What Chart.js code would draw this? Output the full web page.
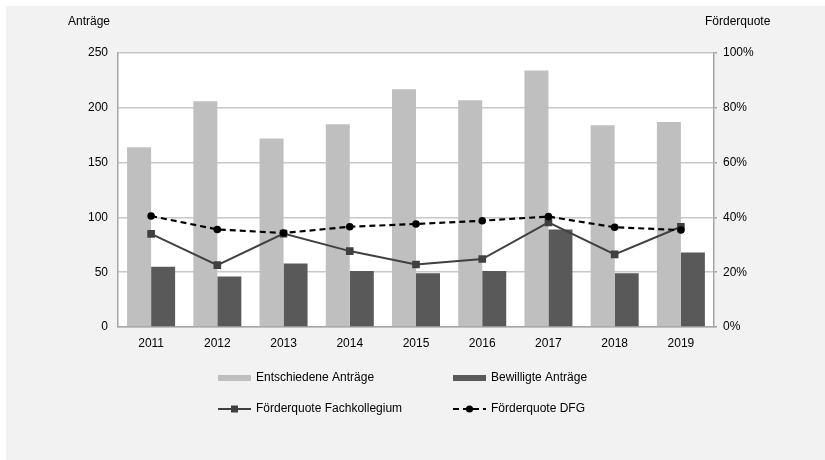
<!doctype html>
<html lang="de">
  <head>
    <meta charset="utf-8">
    <title>Anträge und Förderquote 2011–2019</title>
    <style>
      body { margin: 0; background: #fff; }
      .chartBox { width: 825px; height: 460px; }
    </style>
  </head>
  <body>
    <div class="chartBox">
      <canvas id="myChart" width="825" height="460"></canvas>
    </div>
    <script src="https://cdn.jsdelivr.net/npm/chart.js/dist/chart.umd.min.js"></script>
    <script>
    // data
    const years = ['2011', '2012', '2013', '2014', '2015', '2016', '2017', '2018', '2019'];
    const entschieden = [164, 206, 172, 185, 217, 207, 234, 184, 187];
    const bewilligt = [55, 46, 58, 51, 49, 51, 89, 49, 68];
    const quoteFach = [34.0, 22.6, 34.1, 27.7, 22.8, 24.8, 38.2, 26.5, 36.6];
    const quoteDFG = [40.5, 35.6, 34.3, 36.6, 37.6, 38.8, 40.3, 36.4, 35.4];

    const FONT = '"Liberation Sans", Arial, sans-serif';
    Chart.defaults.font.family = FONT;
    Chart.defaults.font.size = 12;
    Chart.defaults.color = '#000';

    // grey panel, white plot area
    const background = {
      id: 'background',
      beforeDraw(chart) {
        const { ctx, chartArea: a } = chart;
        ctx.save();
        ctx.fillStyle = '#fff';
        ctx.fillRect(0, 0, chart.width, chart.height);
        ctx.fillStyle = '#f2f2f2';
        ctx.fillRect(6, 6, chart.width - 6, chart.height - 6);
        ctx.fillStyle = '#fff';
        ctx.fillRect(a.left, a.top, a.right - a.left, a.bottom - a.top);
        ctx.restore();
      }
    };

    // horizontal axis titles above both y axes + two-column legend
    const extras = {
      id: 'extras',
      afterDraw(chart) {
        const ctx = chart.ctx;
        ctx.save();
        ctx.font = '12px ' + FONT;
        ctx.fillStyle = '#000';
        ctx.textBaseline = 'middle';
        ctx.textAlign = 'right';
        ctx.fillText('Anträge', 110, 22);
        ctx.textAlign = 'left';
        ctx.fillText('Förderquote', 705, 22);

        const ds = chart.data.datasets;
        const cols = [218, 453];
        const rows = [378, 409];
        ds.forEach((d, i) => {
          const x = cols[i % 2], y = rows[Math.floor(i / 2)];
          if (d.type === 'bar') {
            ctx.fillStyle = d.backgroundColor;
            ctx.fillRect(x, y - 3, 33, 6);
          } else {
            ctx.strokeStyle = d.borderColor;
            ctx.lineWidth = d.borderWidth;
            ctx.setLineDash(d.borderDash || []);
            ctx.beginPath();
            ctx.moveTo(x, y);
            ctx.lineTo(x + 33, y);
            ctx.stroke();
            ctx.setLineDash([]);
            ctx.fillStyle = d.pointBackgroundColor;
            ctx.beginPath();
            if (d.pointStyle === 'rect') {
              ctx.rect(x + 13, y - 3.5, 7, 7);
            } else {
              ctx.arc(x + 16.5, y, 3.6, 0, Math.PI * 2);
            }
            ctx.fill();
          }
          ctx.fillStyle = '#000';
          ctx.fillText(d.label, x + 38, y);
        });
        ctx.restore();
      }
    };

    const data = {
      labels: years,
      datasets: [
        {
          type: 'bar',
          label: 'Entschiedene Anträge',
          data: entschieden,
          backgroundColor: '#bfbfbf',
          yAxisID: 'y',
          order: 2
        },
        {
          type: 'bar',
          label: 'Bewilligte Anträge',
          data: bewilligt,
          backgroundColor: '#595959',
          yAxisID: 'y',
          order: 2
        },
        {
          type: 'line',
          label: 'Förderquote Fachkollegium',
          data: quoteFach,
          borderColor: '#404040',
          borderWidth: 2,
          pointStyle: 'rect',
          pointRadius: 5.4,
          pointBackgroundColor: '#404040',
          pointBorderWidth: 0,
          yAxisID: 'y1',
          order: 1
        },
        {
          type: 'line',
          label: 'Förderquote DFG',
          data: quoteDFG,
          borderColor: '#000',
          borderWidth: 2.2,
          borderDash: [6, 4],
          pointStyle: 'circle',
          pointRadius: 3.8,
          pointBackgroundColor: '#000',
          pointBorderWidth: 0,
          yAxisID: 'y1',
          order: 0
        }
      ]
    };

    const config = {
      type: 'bar',
      data,
      plugins: [background, extras],
      options: {
        responsive: false,
        animation: false,
        layout: { padding: { top: 53, bottom: 103 } },
        datasets: {
          bar: { categoryPercentage: 0.725, barPercentage: 1.0 }
        },
        plugins: {
          legend: { display: false },
          tooltip: { enabled: false }
        },
        scales: {
          x: {
            grid: { display: false, drawTicks: false },
            border: { color: '#a6a6a6', width: 1.5 },
            ticks: { padding: 9, font: { size: 12 } },
            afterFit(scale) { scale.height = 30; }
          },
          y: {
            position: 'left',
            min: 0,
            max: 250,
            ticks: { stepSize: 50, padding: 10 },
            grid: { color: '#c8c8c8', lineWidth: 1.5, drawTicks: false },
            border: { color: '#a6a6a6', width: 1.5 },
            afterFit(scale) { scale.width = 118; }
          },
          y1: {
            position: 'right',
            min: 0,
            max: 100,
            ticks: {
              stepSize: 20,
              padding: 6,
              callback: v => v + '%'
            },
            grid: { drawOnChartArea: false, tickLength: 3, color: '#a6a6a6', lineWidth: 1.5 },
            border: { color: '#a6a6a6', width: 1.5 },
            afterFit(scale) { scale.width = 111; }
          }
        }
      }
    };

    const myChart = new Chart(document.getElementById('myChart'), config);
    </script>
  </body>
</html>
